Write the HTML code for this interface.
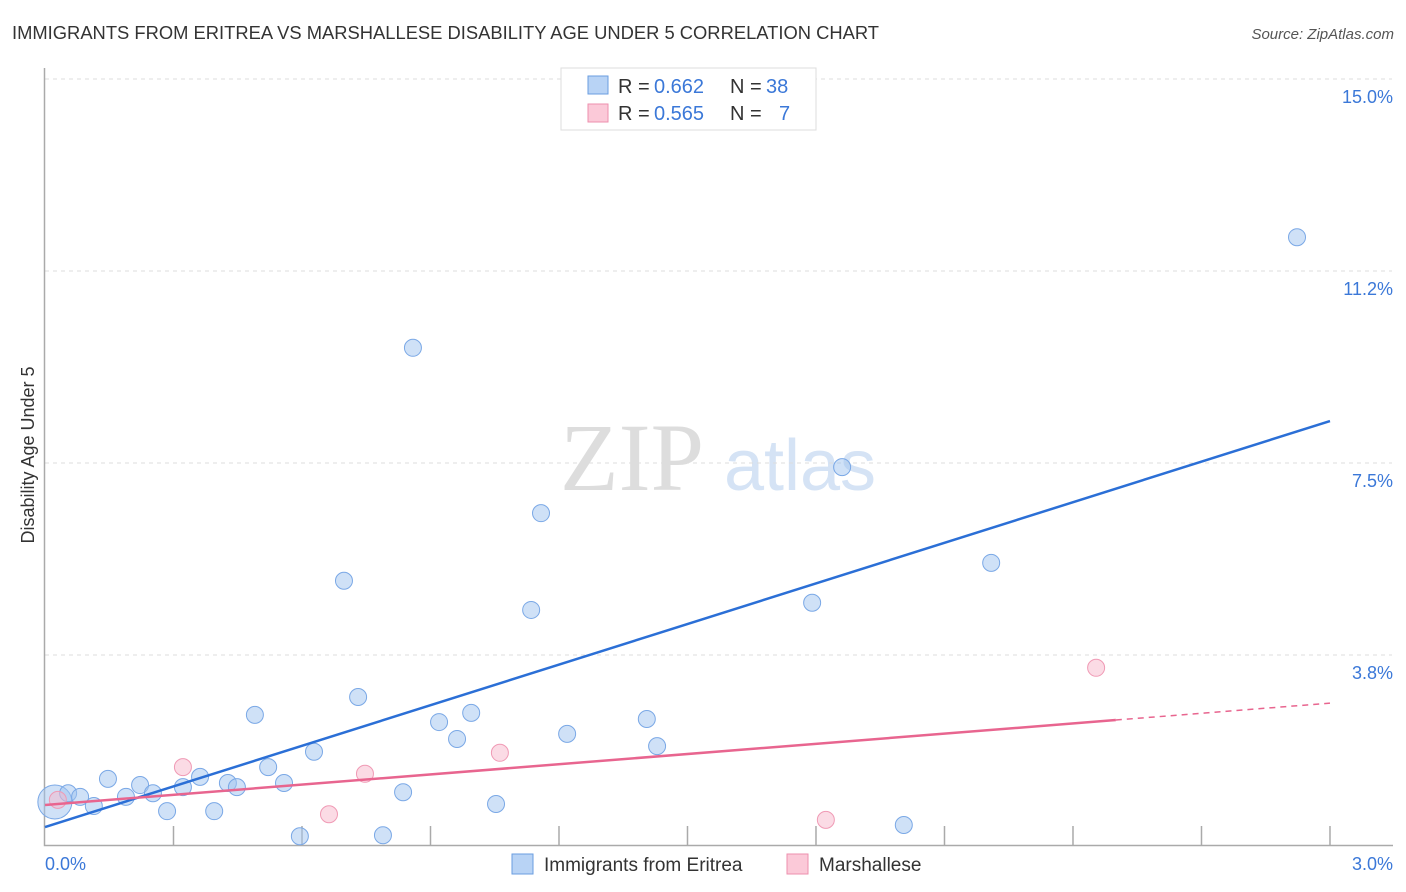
<!DOCTYPE html>
<html><head><meta charset="utf-8"><style>
body{margin:0;background:#fff;font-family:"Liberation Sans",sans-serif}
svg{display:block}
</style></head><body>
<svg width="1406" height="892" xmlns="http://www.w3.org/2000/svg">
<text x="12" y="39" font-size="18" fill="#333" textLength="867" lengthAdjust="spacingAndGlyphs">IMMIGRANTS FROM ERITREA VS MARSHALLESE DISABILITY AGE UNDER 5 CORRELATION CHART</text>
<text x="1394" y="39" font-size="15" fill="#555" font-style="italic" text-anchor="end">Source: ZipAtlas.com</text>
<text x="34" y="455" font-size="18" fill="#333" text-anchor="middle" transform="rotate(-90 34 455)">Disability Age Under 5</text>
<g>
<text x="632" y="490" font-size="96" fill="#ddd" font-family="Liberation Serif,serif" text-anchor="middle">ZIP</text>
<text x="800" y="490" font-size="72" fill="#d5e3f5" text-anchor="middle">atlas</text>
</g>
<g id="grid"></g>
<g id="axes"></g>
<g id="marks"></g>
<g>
<rect x="561" y="68" width="255" height="62" fill="#fff" stroke="#ddd"/>
<rect x="588" y="76" width="20" height="18" fill="#b8d3f5" stroke="#6a9ee0"/>
<text x="618" y="93" font-size="20" fill="#333">R =</text>
<text x="654" y="93" font-size="20" fill="#3b78d8">0.662</text>
<text x="730" y="93" font-size="20" fill="#333">N =</text>
<text x="766" y="93" font-size="20" fill="#3b78d8">38</text>
<rect x="588" y="104" width="20" height="18" fill="#fbc9d8" stroke="#ee8fae"/>
<text x="618" y="120" font-size="20" fill="#333">R =</text>
<text x="654" y="120" font-size="20" fill="#3b78d8">0.565</text>
<text x="730" y="120" font-size="20" fill="#333">N =</text>
<text x="779" y="120" font-size="20" fill="#3b78d8">7</text>
</g>
<g>
<rect x="512" y="854" width="21" height="20" fill="#b8d3f5" stroke="#6a9ee0"/>
<text x="544" y="871" font-size="19" fill="#333">Immigrants from Eritrea</text>
<rect x="787" y="854" width="21" height="20" fill="#fbc9d8" stroke="#ee8fae"/>
<text x="819" y="871" font-size="19" fill="#333">Marshallese</text>
</g>
</svg>
<script>
const blueX=[0.023,0.054,0.082,0.114,0.147,0.189,0.222,0.252,0.285,0.322,0.362,0.395,0.427,0.448,0.490,0.521,0.558,0.595,0.628,0.698,0.731,0.789,0.836,0.859,0.920,0.962,0.995,1.053,1.135,1.158,1.219,1.405,1.429,1.791,1.861,2.005,2.209,2.923];
const blueY=[0.88,1.05,0.98,0.80,1.33,0.98,1.21,1.05,0.70,1.17,1.37,0.70,1.25,1.17,2.58,1.56,1.25,0.21,1.86,5.20,2.93,0.23,1.07,9.75,2.44,2.11,2.62,0.84,4.63,6.52,2.21,2.50,1.97,4.77,7.42,0.43,5.55,11.91];
const pinkX=[0.030,0.322,0.663,0.747,1.062,1.823,2.454];
const pinkY=[0.92,1.56,0.64,1.43,1.84,0.53,3.50];
const blueLine=[0.39,8.32];
const pinkLine=[0.82,2.48,2.81];
const yTicks=[3.75,7.5,11.25,15];
const yTickLabels=["3.8%","7.5%","11.2%","15.0%"];
const xTicks=[0.3,0.6,0.9,1.2,1.5,1.8,2.1,2.4,2.7,3.0];
const ns="http://www.w3.org/2000/svg";
const X=v=>45+v*428.33, Y=v=>847-v*51.2;
function mk(parent,tag,attrs){const e=document.createElementNS(ns,tag);for(const k in attrs)e.setAttribute(k,attrs[k]);document.getElementById(parent).appendChild(e);return e;}
yTicks.forEach((t,i)=>{
 const l=mk('grid','line',{x1:45,x2:1392,y1:Y(t),y2:Y(t),stroke:'#ddd','stroke-dasharray':'4 4'});
 
 
 const tx=mk('grid','text',{x:1393,y:Y(t)+24,'font-size':18,fill:'#3b78d8','text-anchor':'end'});
 tx.textContent=yTickLabels[i];
 
 
});
const ax=mk('axes','path',{d:'M44.5 68 V845.5 H1393',fill:'none',stroke:'#aaa','stroke-width':1.5});


xTicks.forEach(t=>{
 const l=mk('axes','line',{x1:X(t),x2:X(t),y1:826,y2:845,stroke:'#aaa','stroke-width':1.5});
 
 
});
const x0=mk('axes','text',{x:45,y:870,'font-size':18,fill:'#3b78d8'});x0.textContent='0.0%';


const x1=mk('axes','text',{x:1393,y:870,'font-size':18,fill:'#3b78d8','text-anchor':'end'});x1.textContent='3.0%';


blueX.forEach((v,i)=>{
 const c=mk('marks','circle',{cx:X(v),cy:Y(blueY[i]),r:i===0?17:8.5,fill:'rgba(160,196,240,0.5)',stroke:'#7aa8e6','stroke-width':1});
 
 
});
pinkX.forEach((v,i)=>{
 const c=mk('marks','circle',{cx:X(v),cy:Y(pinkY[i]),r:8.5,fill:'rgba(248,184,204,0.5)',stroke:'#f09ab5','stroke-width':1});
 
 
});
const bl=mk('marks','line',{x1:X(0),y1:Y(blueLine[0]),x2:X(3),y2:Y(blueLine[1]),stroke:'#2b6fd6','stroke-width':2.5});


const pl=mk('marks','line',{x1:X(0),y1:Y(pinkLine[0]),x2:X(2.5),y2:Y(pinkLine[1]),stroke:'#e8658f','stroke-width':2.5});


const pd=mk('marks','line',{x1:X(2.5),y1:Y(pinkLine[1]),x2:X(3),y2:Y(pinkLine[2]),stroke:'#e8658f','stroke-width':1.5,'stroke-dasharray':'6 5'});


</script>
</body></html>
